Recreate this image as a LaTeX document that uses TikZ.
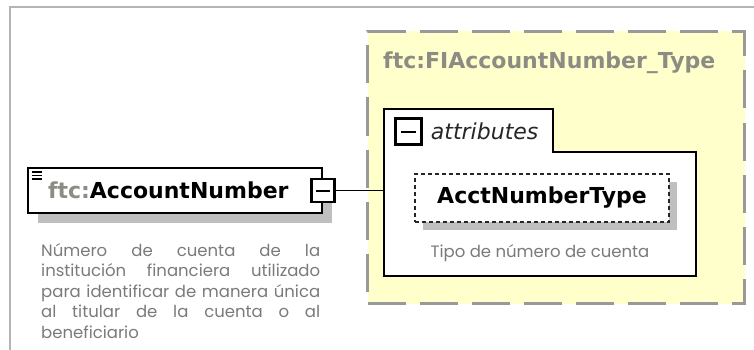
\documentclass[tikz,border=0pt]{standalone}
\usepackage{fontspec}
\newfontfamily\xsdfont{DejaVu Sans}[BoldFont={DejaVu Sans Bold}, ItalicFont={DejaVu Sans Oblique}]
\newfontfamily\notefont{Poppins}
\usetikzlibrary{positioning, shadows}

\definecolor{typeyellow}{HTML}{FFFFCC}
\definecolor{labelgray}{HTML}{8C8C84}
\definecolor{notegray}{HTML}{7A7A7A}
\definecolor{framegray}{HTML}{B4B4B4}

\begin{document}
\begin{tikzpicture}[x=1pt, y=-1pt, node distance=0pt]
    \tikzset{
        elem/.style={
            rectangle,
            draw=black,
            line width=2pt,
            fill=white,
            inner sep=0pt,
            font=\xsdfont\bfseries\fontsize{22}{24}\selectfont
        },
        minusbox/.style={
            rectangle,
            draw=black,
            line width=2.5pt,
            fill=white,
            inner sep=0pt,
            minimum size=23pt
        },
        note/.style={
            inner sep=0pt,
            text=notegray,
            font=\notefont\fontsize{16.5}{20.5}\selectfont
        },
        grayshadow/.style={
            drop shadow={shadow xshift=#1, shadow yshift=-#1, fill=black!25, opacity=1}
        }
    }

    \useasboundingbox (0,0) rectangle (754,350);
    \draw[framegray, line width=2pt] (10,360) |- (760,7);

    % complex type
    \node[rectangle, draw=black!40, fill=typeyellow, line width=2.5pt, dash pattern=on 38pt off 14pt,
          minimum width=377pt, minimum height=272pt] (typebox) at (556,167.5) {};
    \node[anchor=west, inner sep=0pt, text=labelgray, font=\xsdfont\bfseries\fontsize{22}{24}\selectfont]
        (typelabel) at (383,63) {ftc:FIAccountNumber\_Type};

    % attributes group
    \node[fill=white, inner sep=0pt, minimum width=169pt, minimum height=43pt] (attrtab) at (468.5,130.5) {};
    \node[fill=white, inner sep=0pt, minimum width=312pt, minimum height=124pt] (attrbox) at (540,214) {};
    \draw[line width=2pt] (attrtab.south west) |- (attrtab.north east) |- (attrbox.north east)
        |- (attrbox.south west) -- cycle;
    \node[minusbox, minimum size=26pt] (attrminus) at (408.5,131.5) {\rule{15pt}{2pt}};
    \node[right=8pt of attrminus, inner sep=0pt, text=black!85, font=\xsdfont\itshape\fontsize{22}{24}\selectfont]
        (attrlabel) {attributes};

    \node[elem, draw=black!85, dash pattern=on 4pt off 3pt, grayshadow=8pt,
          minimum width=254pt, minimum height=48pt] (attrnode) at (542,198) {AcctNumberType};
    \node[note, anchor=base] (attrnote) at (540,257) {Tipo de número de cuenta};

    % element
    \node[elem, grayshadow=10pt, minimum width=294pt, minimum height=45pt,
          text width=254pt, inner xsep=20pt, align=left] (accnode) at (175,190.5)
        {\textcolor{labelgray}{ftc:}AccountNumber};
    \foreach \i in {0,1,2}
        \draw[line width=1.3pt] ([xshift=5pt, yshift={-(5+3.5*\i)*1pt}]accnode.north west) -- ++(10,0);
    \node[minusbox] (accminus) at (accnode.east) {\rule{14pt}{2pt}};

    \draw[line width=1.5pt] (accminus.east) -- (accminus.east -| attrbox.west);

    \node[note, anchor=north west, align=left] (accnote) at (41,243) {%
        \makebox[279pt][s]{Número de cuenta de la}\\
        \makebox[279pt][s]{institución financiera utilizado}\\
        \makebox[279pt][s]{para identificar de manera única}\\
        \makebox[279pt][s]{al titular de la cuenta o al}\\
        beneficiario};

\end{tikzpicture}
\end{document}
